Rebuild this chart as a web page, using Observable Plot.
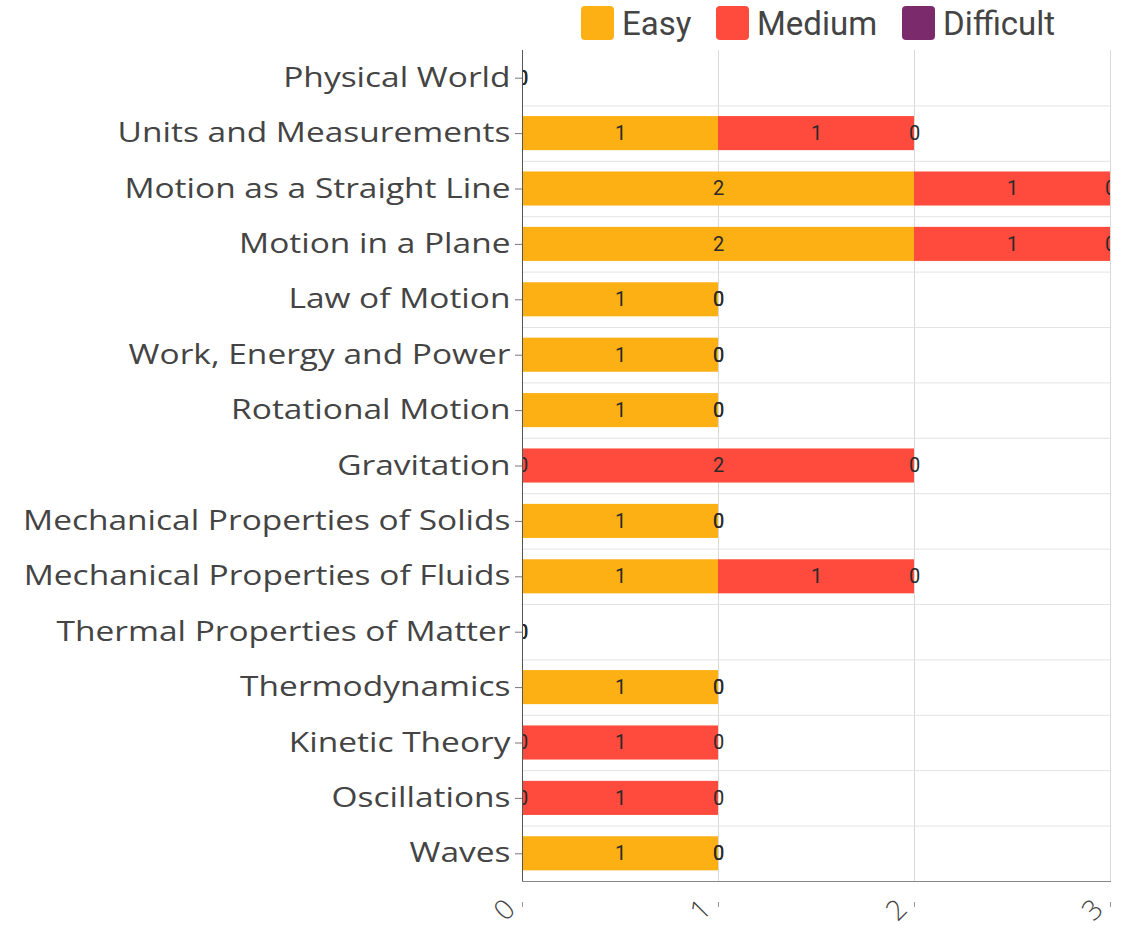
<!DOCTYPE html>
<html>
<head>
<meta charset="utf-8">
<script src="https://cdn.jsdelivr.net/npm/d3@7"></script>
<script src="https://cdn.jsdelivr.net/npm/@observablehq/plot@0.6"></script>
<style>
  html, body { margin: 0; padding: 0; background: #fff; }
  #wrap { width: 1124px; }
  #legend { height: 48px; position: relative; font-family: Roboto, "Open Sans", sans-serif; font-size: 33px; color: #444; }
  .item { position: absolute; top: 6px; display: flex; align-items: center; height: 34px; }
  .sw { width: 33px; height: 34px; border-radius: 4px; margin-right: 8px; }
  svg { display: block; }
</style>
</head>
<body>
<div id="wrap">
  <div id="legend"></div>
  <div id="chart"></div>
</div>
<script>
const categories = [
  "Physical World",
  "Units and Measurements",
  "Motion as a Straight Line",
  "Motion in a Plane",
  "Law of Motion",
  "Work, Energy and Power",
  "Rotational Motion",
  "Gravitation",
  "Mechanical Properties of Solids",
  "Mechanical Properties of Fluids",
  "Thermal Properties of Matter",
  "Thermodynamics",
  "Kinetic Theory",
  "Oscillations",
  "Waves"
];
const easy      = [0, 1, 2, 2, 1, 1, 1, 0, 1, 1, 0, 1, 0, 0, 1];
const medium    = [0, 1, 1, 1, 0, 0, 0, 2, 0, 1, 0, 0, 1, 1, 0];
const difficult = [0, 0, 0, 0, 0, 0, 0, 0, 0, 0, 0, 0, 0, 0, 0];
const levels = ["Easy", "Medium", "Difficult"];
const colors = ["#FDB014", "#FF4B3E", "#7B2A6B"];
const xTicks = [0, 1, 2, 3];

const series = [easy, medium, difficult];
const data = categories.flatMap((c, i) =>
  levels.map((l, j) => ({topic: c, level: l, value: series[j][i]}))
);

// legend
const legendPos = [581, 716, 902];
const legend = document.getElementById("legend");
levels.forEach((l, j) => {
  const it = document.createElement("div");
  it.className = "item";
  it.style.left = legendPos[j] + "px";
  it.innerHTML = `<div class="sw" style="background:${colors[j]}"></div><span>${l}</span>`;
  legend.appendChild(it);
});

const W = 1124, H = 884, mT = 2, mB = 51, mL = 522, mR = 14;
const step = (H - mT - mB) / categories.length;

const chart = Plot.plot({
  width: W,
  height: H,
  marginTop: mT,
  marginBottom: mB,
  marginLeft: mL,
  marginRight: mR,
  style: {fontFamily: "'Open Sans', sans-serif", background: "#fff"},
  x: {domain: [0, 3], label: null},
  y: {domain: categories, paddingInner: 0.385, paddingOuter: 0.1925, round: false, label: null},
  color: {domain: levels, range: colors},
  marks: [
    Plot.gridX(xTicks.slice(1), {stroke: "#d9d9d9", strokeOpacity: 1}),
    Plot.ruleY(categories, {y: d => d, dy: step / 2, stroke: "#e3e3e3", strokeOpacity: 1}),
    Plot.barX(data, Plot.stackX({x: "value", y: "topic", fill: "level", order: levels})),
    Plot.text(data, Plot.stackX({x: "value", y: "topic", z: "level", order: levels, text: "value",
      fill: "#2a2a2a", fontSize: 20, fontFamily: "Roboto, 'Open Sans', sans-serif", clip: true})),
    Plot.ruleX([0], {stroke: "#555"}),
    Plot.frame({anchor: "bottom", stroke: "#888"}),
    Plot.axisY({tickSize: 7, tickPadding: 5, fontSize: 27, fill: "#444", stroke: "#777", label: null}),
    Plot.axisX({ticks: xTicks, tickSize: 0, tickPadding: 23, dx: -12, tickRotate: -45, fontSize: 28,
      fontWeight: 300, fill: "#444", tickFormat: d => String(d), label: null}),
    Plot.axisX({ticks: xTicks, tickSize: 5, tickFormat: () => "", dy: 21, stroke: "#999", label: null})
  ]
});
document.getElementById("chart").appendChild(chart);

// widen y-axis labels to mimic the wide geometric face of the original
d3.select(chart).selectAll("g[aria-label='y-axis tick label'] text").each(function () {
  const t = this.getAttribute("transform") || "";
  this.setAttribute("transform", t + " scale(1.24,1)");
});
</script>
</body>
</html>
